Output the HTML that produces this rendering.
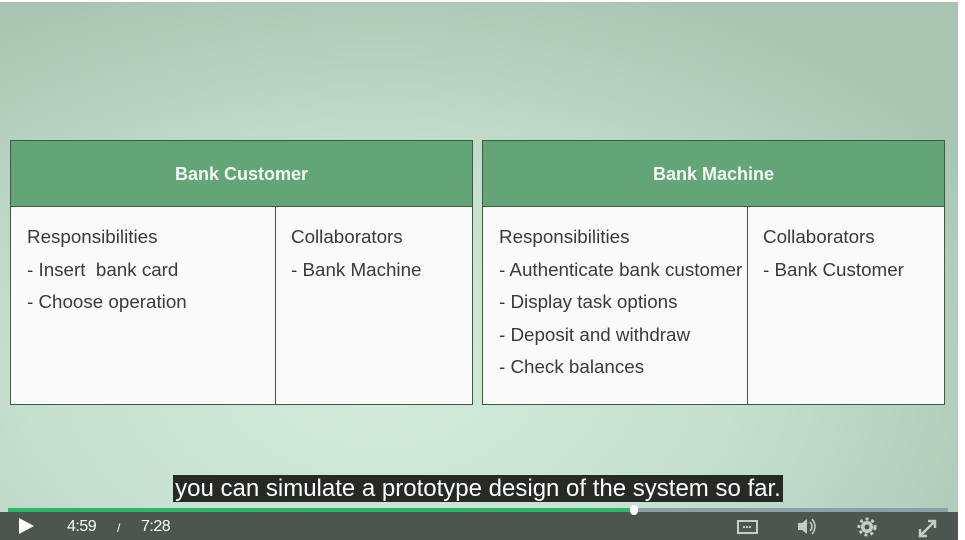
<!DOCTYPE html>
<html><head><style>
*{margin:0;padding:0;box-sizing:border-box}
body{width:965px;height:540px;overflow:hidden;background:#fff;font-family:"Liberation Sans",sans-serif;position:relative}
.bg{position:absolute;left:0;top:2px;width:958px;height:538px;background:radial-gradient(ellipse 700px 420px at 380px 380px,#d3eadb 0%,#c6e0cf 50%,#a9c5b2 100%)}
.card{position:absolute;top:140px;width:463px;height:265px;border:1px solid #3d5a45;background:#fafafa}
.hd{height:66px;background:#63a577;border-bottom:1px solid #3d5a45;color:#f4f8f4;font-weight:bold;font-size:18px;text-align:center;line-height:66px}
.div{position:absolute;left:264px;top:66px;bottom:0;border-left:1px solid #3d5a45}
.col{position:absolute;top:80px;font-size:18.8px;color:#3a3a3a;line-height:32.5px;white-space:nowrap}
.sub{position:absolute;left:173px;top:475px;width:610px;height:27px;background:#262a27;color:#fff;font-size:24px;line-height:27px;text-align:center;letter-spacing:0}
.bar{position:absolute;left:0;top:512px;width:958px;height:28px;background:#4d554f}
.prog{position:absolute;left:8px;top:508px;width:940px;height:4px;background:#8aa0ac}
.prog i{position:absolute;left:0;top:0;width:626px;height:4px;background:#2db56c}
.knob{position:absolute;left:630px;top:505px;width:8px;height:10px;border-radius:4px;background:#fff}
.t{position:absolute;top:518px;color:#fff;font-size:16px;letter-spacing:-0.5px}
</style></head><body>
<div class="bg"></div>
<div class="card" style="left:10px"><div class="hd">Bank Customer</div><div class="div"></div>
<div class="col" style="left:16px">Responsibilities<br>- Insert&nbsp; bank card<br>- Choose operation</div>
<div class="col" style="left:280px">Collaborators<br>- Bank Machine</div></div>
<div class="card" style="left:482px"><div class="hd">Bank Machine</div><div class="div"></div>
<div class="col" style="left:16px">Responsibilities<br>- Authenticate bank customer<br>- Display task options<br>- Deposit and withdraw<br>- Check balances</div>
<div class="col" style="left:280px">Collaborators<br>- Bank Customer</div></div>
<div class="sub">you can simulate a prototype design of the system so far.</div>
<div class="bar"></div>
<div class="prog"><i></i></div><div class="knob"></div>
<svg style="position:absolute;left:0;top:512px" width="958" height="28">
<polygon points="19,6 19,22 34,14" fill="#fff"/>
<rect x="738" y="9" width="19" height="12" fill="none" stroke="#c8ccc9" stroke-width="2"/>
<line x1="743" y1="15" x2="752" y2="15" stroke="#c8ccc9" stroke-width="2" stroke-dasharray="2 1"/>
<polygon points="798,11 802,11 807,7 807,22 802,18 798,18" fill="#c8ccc9"/>
<path d="M810 10 Q814 14.5 810 19 M812 7 Q818 14.5 812 22" stroke="#c8ccc9" stroke-width="1.5" fill="none"/>
<circle cx="867" cy="15" r="6" fill="#c8ccc9"/><circle cx="867" cy="15" r="8" fill="none" stroke="#c8ccc9" stroke-width="3" stroke-dasharray="3 3"/><circle cx="867" cy="15" r="2.5" fill="#4d554f"/>
<path d="M921 23 L934 10 M928 9 L935 9 L935 16 M920 17 L920 24 L927 24" stroke="#c8ccc9" stroke-width="2.5" fill="none"/>
</svg>
<div class="t" style="left:67px">4:59</div>
<div class="t" style="left:117px;font-size:12px;top:521px">/</div>
<div class="t" style="left:141px">7:28</div>
</body></html>
